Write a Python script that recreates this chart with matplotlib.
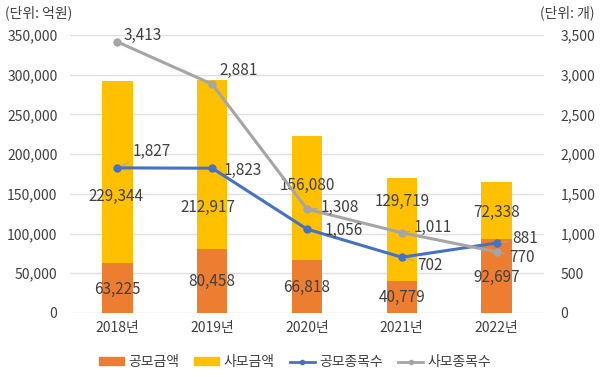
import numpy as np
import matplotlib.pyplot as plt
from matplotlib.patches import Patch
from matplotlib.lines import Line2D

plt.rcParams['font.family'] = ['Noto Sans CJK KR', 'DejaVu Sans']

years = ['2018년', '2019년', '2020년', '2021년', '2022년']
public_amt = [63225, 80458, 66818, 40779, 92697]
private_amt = [229344, 212917, 156080, 129719, 72338]
public_cnt = [1827, 1823, 1056, 702, 881]
private_cnt = [3413, 2881, 1308, 1011, 770]

c_orange = '#ED7D31'
c_yellow = '#FFC000'
c_blue = '#4472C4'
c_gray = '#A5A5A5'
txt = '#404040'

fig = plt.figure(figsize=(6, 3.77), dpi=100)
ax = fig.add_axes([70/600, 1-313/377, 474/600, 278/377])
ax2 = ax.twinx()

x = np.arange(len(years))
ax.bar(x, public_amt, width=0.32, color=c_orange, zorder=2)
ax.bar(x, private_amt, width=0.32, bottom=public_amt, color=c_yellow, zorder=2)

ax.set_ylim(0, 350000)
ax.set_xlim(-0.5, 4.5)
ax.set_yticks(range(0, 350001, 50000))
ax.set_yticklabels([f'{v:,}' for v in range(0, 350001, 50000)])
ax.set_xticks(x)
ax.set_xticklabels(years)
ax.grid(axis='y', color='#E0E0E0', lw=1, zorder=0)
ax.set_axisbelow(True)

ax2.plot(x, public_cnt, color=c_blue, lw=2.2, marker='o', ms=5, zorder=3)
ax2.plot(x, private_cnt, color=c_gray, lw=2.2, marker='o', ms=5, zorder=3)
ax2.set_ylim(0, 3500)
ax2.set_yticks(range(0, 3501, 500))
ax2.set_yticklabels([f'{v:,}' for v in range(0, 3501, 500)])

for a in (ax, ax2):
    for s in a.spines.values():
        s.set_visible(False)
    a.tick_params(length=0, labelsize=10, colors=txt)
ax.tick_params(axis='y', pad=9)
ax2.tick_params(axis='y', pad=12)
ax.tick_params(axis='x', pad=6)

# bar labels (x offset in category units, y in amount units)
pub_lab_y = [29000, 40000, 32000, 20000, 45000]
prv_lab_y = [147000, 133000, 161000, 140000, 127000]
prv_lab_dx = [-0.02, -0.05, 0, 0, 0]
for i in x:
    ax.text(i, pub_lab_y[i], f'{public_amt[i]:,}', ha='center', va='center', fontsize=11, color=txt, zorder=5)
    ax.text(i + prv_lab_dx[i], prv_lab_y[i], f'{private_amt[i]:,}', ha='center', va='center', fontsize=11, color=txt, zorder=5)

# line labels
prv_pos = [(0.27, 3500), (1.28, 3050), (2.35, 1330), (3.33, 1080), (4.27, 705)]
pub_pos = [(0.36, 2030), (1.32, 1800), (2.39, 1040), (3.3, 600), (4.3, 935)]
prv_lead = [False, False, True, True, True]
pub_lead = [True, False, False, True, True]
lead = dict(arrowstyle='-', color=c_gray, lw=0.8, shrinkA=1, shrinkB=3)
for i in x:
    ax2.annotate(f'{private_cnt[i]:,}', xy=(i, private_cnt[i]), xytext=prv_pos[i],
                 ha='center', va='center', fontsize=11, color=txt, zorder=5,
                 arrowprops=lead if prv_lead[i] else None)
    ax2.annotate(f'{public_cnt[i]:,}', xy=(i, public_cnt[i]), xytext=pub_pos[i],
                 ha='center', va='center', fontsize=11, color=txt, zorder=5,
                 arrowprops=lead if pub_lead[i] else None)

fig.text(5/600, 1-13/377, '(단위: 억원)', fontsize=10, color=txt, va='center')
fig.text(595/600, 1-13/377, '(단위: 개)', fontsize=10, color=txt, va='center', ha='right')

handles = [Patch(color=c_orange), Patch(color=c_yellow),
           Line2D([], [], color=c_blue, lw=2, marker='o', ms=3),
           Line2D([], [], color=c_gray, lw=2, marker='o', ms=3)]
fig.legend(handles, ['공모금액', '사모금액', '공모종목수', '사모종목수'], loc='center',
           bbox_to_anchor=(295/600, 1-362/377), ncol=4, frameon=False, fontsize=10,
           handlelength=1.8, handleheight=0.5, handletextpad=0.3, columnspacing=1.1,
           labelcolor=txt)

fig.savefig('out.png', dpi=100)
